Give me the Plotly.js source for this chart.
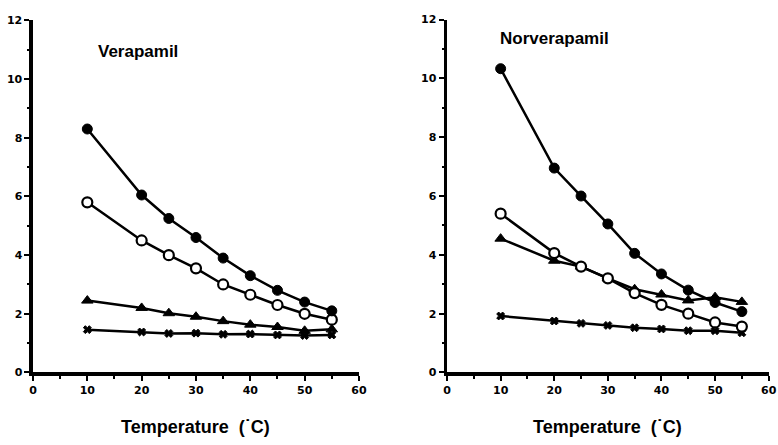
<!DOCTYPE html>
<html>
<head>
<meta charset="utf-8">
<script src="https://cdn.plot.ly/plotly-3.0.1.min.js"></script>
<style>html,body{margin:0;padding:0;background:#fff;}#chart{width:778px;height:445px;}</style>
</head>
<body>
<div id="chart"></div>
<script>
const temperature = [10, 20, 25, 30, 35, 40, 45, 50, 55];

// Verapamil panel
const veraFilledCircle = [8.3, 6.05, 5.25, 4.6, 3.9, 3.3, 2.8, 2.4, 2.1];
const veraOpenCircle   = [5.8, 4.5, 4.0, 3.55, 3.0, 2.65, 2.3, 2.0, 1.8];
const veraTriangle     = [2.45, 2.2, 2.02, 1.9, 1.75, 1.63, 1.55, 1.42, 1.47];
const veraCross        = [1.46, 1.38, 1.33, 1.34, 1.3, 1.31, 1.28, 1.26, 1.28];

// Norverapamil panel
const norFilledCircle = [10.33, 6.95, 6.0, 5.05, 4.05, 3.35, 2.8, 2.38, 2.07];
const norOpenCircle   = [5.4, 4.06, 3.6, 3.2, 2.7, 2.3, 2.0, 1.7, 1.56];
const norTriangle     = [4.55, 3.8, 3.6, 3.2, 2.83, 2.65, 2.45, 2.56, 2.4];
const norCross        = [1.92, 1.75, 1.67, 1.6, 1.52, 1.48, 1.42, 1.42, 1.35];

const panelTitles = ["Verapamil", "Norverapamil"];
const xTitle = "Temperature  (\u02D9C)";

function series(y, xa, ya, sym, size) {
  return {
    x: temperature, y: y, xaxis: xa, yaxis: ya,
    type: 'scatter', mode: 'lines+markers', cliponaxis: false,
    line: {color: '#000', width: 2.5},
    marker: {symbol: sym, color: '#000', size: size, line: {color: '#000', width: 1}},
    showlegend: false, hoverinfo: 'skip'
  };
}

function openCircle(y, xa, ya) {
  return {
    x: temperature, y: y, xaxis: xa, yaxis: ya,
    type: 'scatter', mode: 'lines+markers', cliponaxis: false,
    line: {color: '#000', width: 2.5},
    marker: {symbol: 'circle', color: '#fff', size: 10, line: {color: '#000', width: 2.2}},
    showlegend: false, hoverinfo: 'skip'
  };
}

const data = [
  series(veraCross, 'x', 'y', 'x', 7),
  series(veraTriangle, 'x', 'y', 'triangle-up', 10),
  openCircle(veraOpenCircle, 'x', 'y'),
  series(veraFilledCircle, 'x', 'y', 'circle', 10),
  series(norCross, 'x2', 'y2', 'x', 7),
  series(norTriangle, 'x2', 'y2', 'triangle-up', 10),
  openCircle(norOpenCircle, 'x2', 'y2'),
  series(norFilledCircle, 'x2', 'y2', 'circle', 10)
];

const tickFont = {family: 'DejaVu Sans', size: 11, color: '#000', weight: 'bold'};

function xaxis(domain, anchor) {
  return {
    domain: domain, anchor: anchor, range: [0, 60], dtick: 10, tick0: 0,
    showgrid: false, zeroline: false, showline: true, linecolor: '#000', linewidth: 3.5,
    ticks: 'outside', ticklen: 5, tickwidth: 2, tickcolor: '#000',
    minor: {dtick: 5, ticks: 'outside', ticklen: 3, tickwidth: 2, tickcolor: '#000', showgrid: false},
    tickfont: tickFont, fixedrange: true
  };
}
function yaxis(domain, anchor) {
  return {
    domain: domain, anchor: anchor, range: [0, 12], dtick: 2, tick0: 0,
    showgrid: false, zeroline: false, showline: true, linecolor: '#000', linewidth: 3.5,
    ticks: 'outside', ticklen: 5, tickwidth: 2, tickcolor: '#000',
    minor: {dtick: 1, ticks: 'outside', ticklen: 2, tickwidth: 2, tickcolor: '#000', showgrid: false},
    tickfont: tickFont, fixedrange: true
  };
}

const titleFont = {family: 'Liberation Sans, Arial, sans-serif', size: 17, color: '#000', weight: 700};
const axTitleFont = {family: 'Liberation Sans, Arial, sans-serif', size: 18, color: '#000', weight: 700};

const layout = {
  width: 778, height: 445,
  margin: {l: 0, r: 0, t: 0, b: 0},
  paper_bgcolor: '#fff', plot_bgcolor: '#fff',
  showlegend: false,
  xaxis: xaxis([0.0424, 0.4614], 'y'),
  yaxis: yaxis([0.163, 0.954], 'x'),
  xaxis2: xaxis([0.5746, 0.988], 'y2'),
  yaxis2: yaxis([0.163, 0.956], 'x2'),
  annotations: [
    {xref: 'x', yref: 'y', x: 11.6, y: 10.95, text: panelTitles[0], showarrow: false, xanchor: 'left', yanchor: 'middle', font: titleFont},
    {xref: 'x2', yref: 'y2', x: 9.5, y: 11.35, text: panelTitles[1], showarrow: false, xanchor: 'left', yanchor: 'middle', font: titleFont},
    {xref: 'x domain', yref: 'paper', x: 0.5, y: 1 - 427/445, text: xTitle, showarrow: false, xanchor: 'center', yanchor: 'middle', font: axTitleFont},
    {xref: 'x2 domain', yref: 'paper', x: 0.5, y: 1 - 427/445, text: xTitle, showarrow: false, xanchor: 'center', yanchor: 'middle', font: axTitleFont}
  ]
};

Plotly.newPlot('chart', data, layout, {displayModeBar: false, staticPlot: true});
</script>
</body>
</html>
